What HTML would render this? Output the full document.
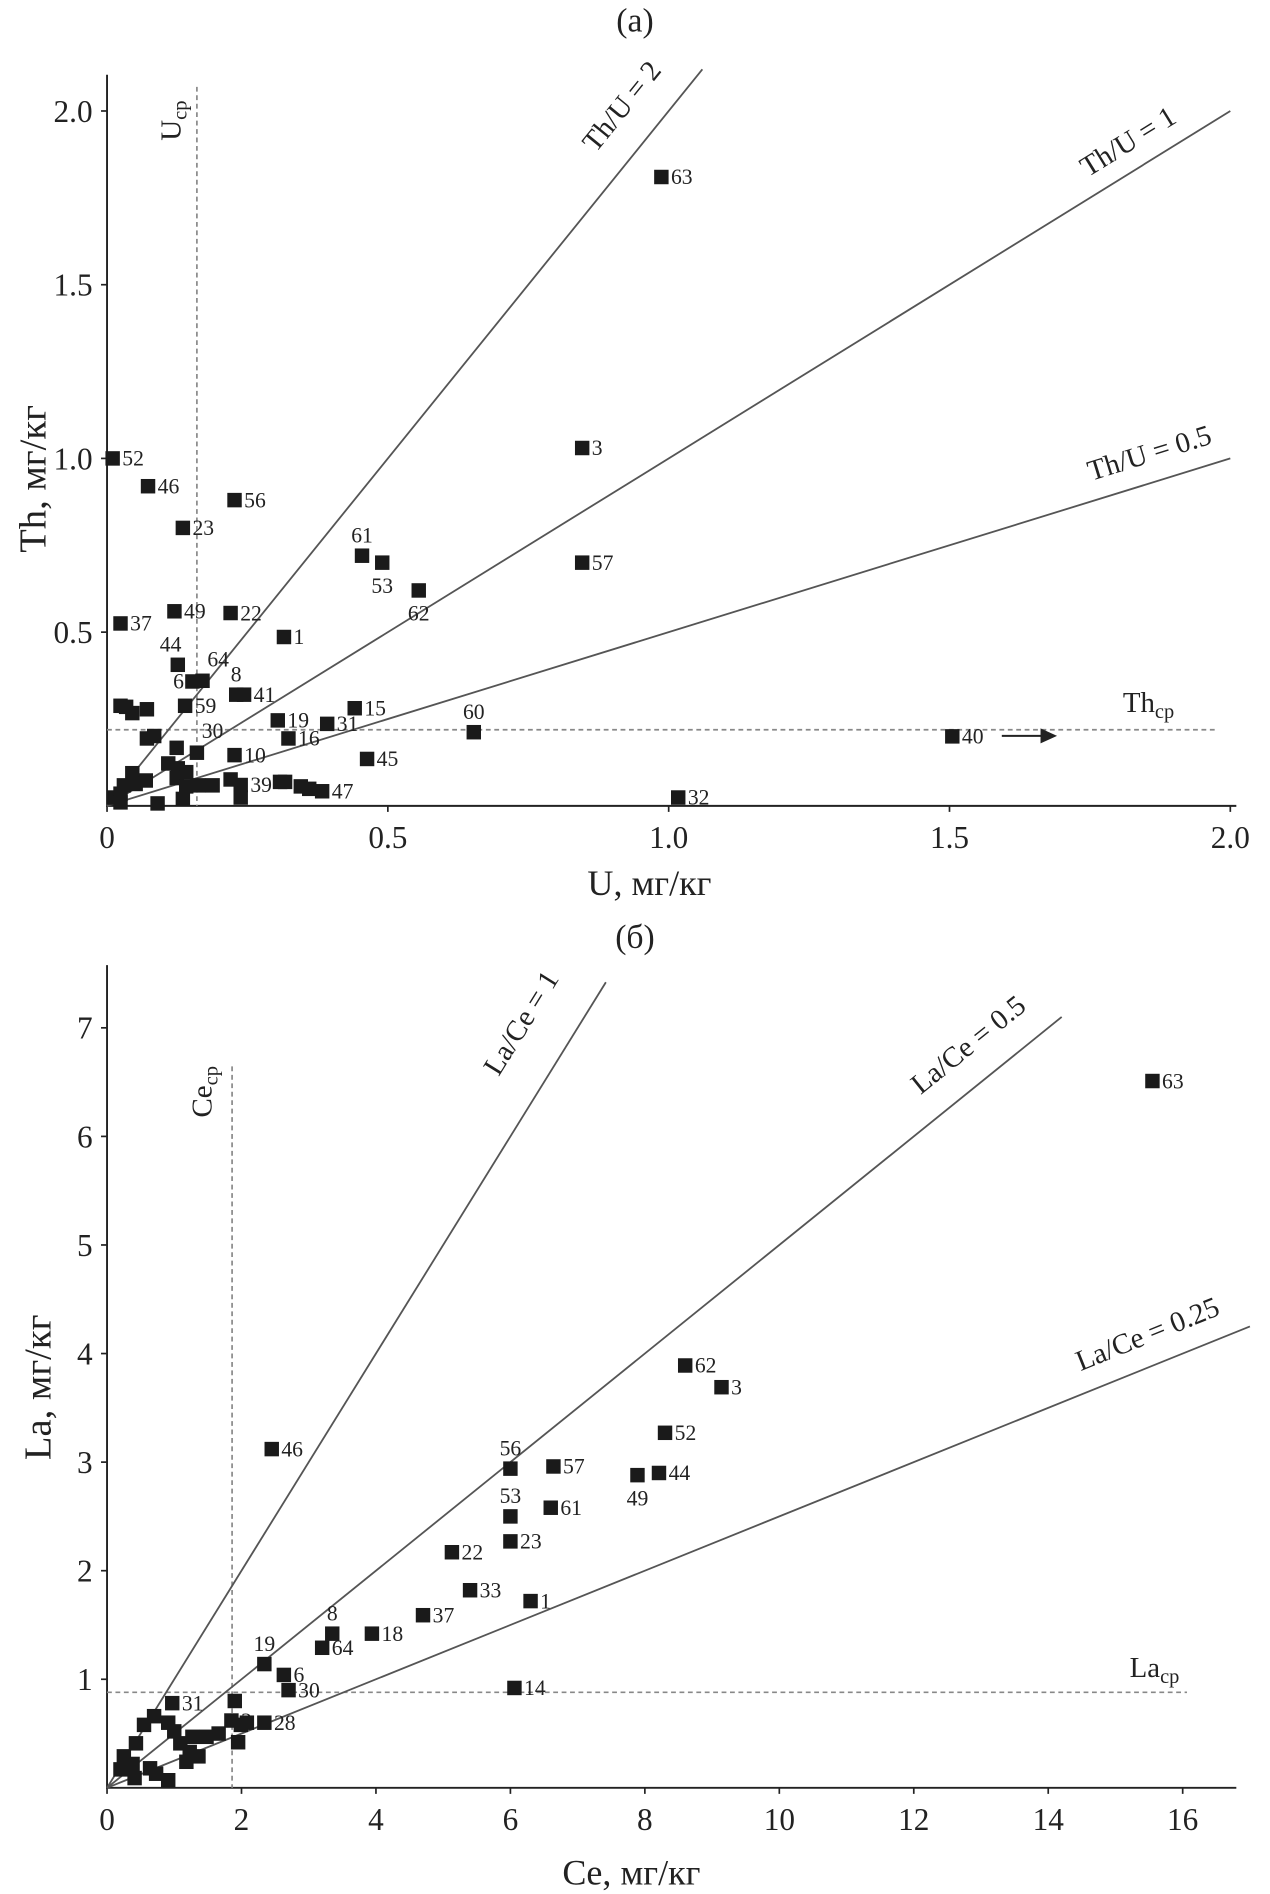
<!DOCTYPE html>
<html><head><meta charset="utf-8"><style>
html,body{margin:0;padding:0;background:#fff;}
svg{display:block;font-family:"Liberation Serif",serif;}
</style></head><body>
<svg id="chart" width="1270" height="1894" viewBox="0 0 1056 1570" preserveAspectRatio="none" xmlns="http://www.w3.org/2000/svg"></svg>
<script>
// Panel (a): U vs Th
const aU  = [0.01,0.073,0.227,0.135,0.454,0.49,0.555,0.846,0.987,0.846,0.024,0.12,0.22,0.315,0.126,0.17,0.152,0.23,0.244,0.139,0.304,0.441,0.392,0.323,0.16,0.227,0.653,1.505,0.463,0.238,0.383,1.017,
 0.024,0.034,0.045,0.071,0.071,0.084,0.124,0.109,0.126,0.141,0.124,0.141,0.045,0.051,0.03,0.024,0.013,0.024,0.09,0.135,0.163,0.188,0.22,0.238,0.308,0.317,0.345,0.36,0.069];
const aTh = [1.0,0.92,0.88,0.80,0.72,0.70,0.62,1.03,1.81,0.70,0.525,0.56,0.555,0.486,0.406,0.36,0.358,0.32,0.32,0.288,0.246,0.281,0.236,0.194,0.153,0.146,0.212,0.20,0.135,0.06,0.042,0.024,
 0.288,0.285,0.267,0.278,0.194,0.201,0.167,0.122,0.108,0.097,0.08,0.056,0.094,0.063,0.059,0.035,0.024,0.01,0.007,0.02,0.059,0.059,0.076,0.024,0.069,0.069,0.056,0.049,0.073];
const aLab = ["52","46","56","23","61","53","62","3","63","57","37","49","22","1","44","64","6","8","41","59","19","15","31","16","30","10","60","40","45","39","47","32"];
const aLabPos = ["r","r","r","r","a","b","b","r","r","r","r","r","r","r","al","ar","l","a","r","r","r","r","r","r","ar","r","a","r","r","r","r","r"];
const aXTicks = [0,0.5,1.0,1.5,2.0];
const aXTickLabels = ["0","0.5","1.0","1.5","2.0"];
const aYTicks = [0.5,1.0,1.5,2.0];
const aYTickLabels = ["0.5","1.0","1.5","2.0"];
const aRatios = [2,1,0.5];
const aRatioEnds = [1.06,2.0,2.0];
const aRatioLabels = ["Th/U = 2","Th/U = 1","Th/U = 0.5"];
const aUcp = 0.16, aThcp = 0.219;

// Panel (b): Ce vs La
const bCe = [15.55,8.6,9.14,8.3,8.21,7.89,6.64,6.0,6.0,6.6,6.0,5.13,5.4,4.7,6.3,3.94,3.2,3.35,2.34,2.63,2.7,6.06,2.45,0.97,2.34,1.85,
 1.9,1.99,2.08,1.95,1.66,1.48,1.27,1.09,1.23,0.7,0.55,0.91,1.0,0.43,0.25,0.2,0.38,0.64,0.91,0.41,0.73,1.18,1.36];
const bLa = [6.51,3.89,3.69,3.27,2.9,2.88,2.96,2.94,2.5,2.58,2.27,2.17,1.82,1.59,1.72,1.42,1.29,1.42,1.14,1.04,0.9,0.92,3.12,0.78,0.6,0.62,
 0.8,0.58,0.6,0.42,0.5,0.47,0.47,0.41,0.33,0.66,0.58,0.6,0.52,0.41,0.29,0.17,0.22,0.18,0.07,0.09,0.13,0.24,0.29];
const bLab = ["63","62","3","52","44","49","57","56","53","61","23","22","33","37","1","18","64","8","19","6","30","14","46","31","28","3"];
const bLabPos = ["r","r","r","r","r","b","r","a","a","r","r","r","r","r","r","r","r","a","a","r","r","r","r","r","r","r"];
const bXTicks = [0,2,4,6,8,10,12,14,16];
const bXTickLabels = ["0","2","4","6","8","10","12","14","16"];
const bYTicks = [1,2,3,4,5,6,7];
const bYTickLabels = ["1","2","3","4","5","6","7"];
const bRatios = [1,0.5,0.25];
const bRatioEnds = [7.42,14.2,17.0];
const bRatioLabels = ["La/Ce = 1","La/Ce = 0.5","La/Ce = 0.25"];
const bCecp = 1.86, bLacp = 0.88;

const svg = document.getElementById('chart');
const NS = "http://www.w3.org/2000/svg";
function mk(tag, attrs, parent){const e=document.createElementNS(NS,tag);for(const k in attrs)e.setAttribute(k,attrs[k]);(parent||svg).appendChild(e);return e;}
function txt(s,x,y,size,anchor,rot,parent){const t=mk('text',{x:x,y:y,'font-size':size,'text-anchor':anchor||'middle',fill:'#222'},parent);if(rot)t.setAttribute('transform','rotate('+rot+' '+x+' '+y+')');t.textContent=s;return t;}

function panel(cfg){
  const g = mk('g',{});
  
  
  const X = v => cfg.ox + v*cfg.sx, Y = v => cfg.oy - v*cfg.sy;
  // axes
  const ax = mk('path',{d:`M${cfg.ox} ${cfg.top} V${cfg.oy} H${cfg.right}`,stroke:'#222','stroke-width':1.6,fill:'none'},g);
  
  
  cfg.xt.forEach((v,i)=>{
    mk('line',{x1:X(v),y1:cfg.oy,x2:X(v),y2:cfg.oy+5,stroke:'#222','stroke-width':1.4},g);
    const t=txt(cfg.xtl[i],X(v),cfg.oy+35,26,'middle',0,g);
    
    
  });
  cfg.yt.forEach((v,i)=>{
    mk('line',{x1:cfg.ox-5,y1:Y(v),x2:cfg.ox,y2:Y(v),stroke:'#222','stroke-width':1.4},g);
    const t=txt(cfg.ytl[i],cfg.ox-12,Y(v)+9,26,'end',0,g);
    
    
  });
  // dotted mean lines
  const vl=mk('line',{x1:X(cfg.vx),y1:cfg.vtop,x2:X(cfg.vx),y2:cfg.oy,stroke:'#888','stroke-width':1.4,'stroke-dasharray':'4,3'},g);
  
  
  const hl=mk('line',{x1:cfg.ox,y1:Y(cfg.hy),x2:cfg.hend,y2:Y(cfg.hy),stroke:'#888','stroke-width':1.4,'stroke-dasharray':'4,3'},g);
  
  
  // ratio lines
  cfg.ratios.forEach((r,i)=>{
    const l=mk('line',{x1:X(0),y1:Y(0),x2:X(cfg.ends[i]),y2:Y(cfg.ends[i]*r),stroke:'#555','stroke-width':1.5},g);
    
    
    const ang = -Math.atan(r*cfg.sy/cfg.sx)*180/Math.PI;
    const p = cfg.rlPos[i];
    const t=txt(cfg.rlabels[i],p[0],p[1],24,'middle',ang,g);
    
    
  });
  // points
  cfg.xs.forEach((v,i)=>{
    const px=X(v), py=Y(cfg.ys[i]);
    const m=mk('rect',{x:px-6,y:py-6,width:12,height:12,fill:'#1a1a1a'},g);
    
    
    if(i<cfg.labs.length){
      const pos=cfg.lpos[i]; let lx=px+8, ly=py+6, an='start';
      if(pos==='a'){lx=px;ly=py-11;an='middle';}
      else if(pos==='b'){lx=px;ly=py+25;an='middle';}
      else if(pos==='l'){lx=px-7;an='end';}
      else if(pos==='al'){lx=px-6;ly=py-11;an='middle';}
      else if(pos==='ar'){lx=px+4;ly=py-12;an='start';}
      const t=txt(cfg.labs[i],lx,ly,18,an,0,g);
      
      
    }
  });
  return {X,Y,g};
}

const A = panel({name:'panel-a',ox:89,oy:668,sx:467,sy:288,top:62,right:1028,xt:aXTicks,xtl:aXTickLabels,yt:aYTicks,ytl:aYTickLabels,
  vx:aUcp,vtop:72,hy:aThcp,hend:1012,ratios:aRatios,ends:aRatioEnds,rlabels:aRatioLabels,
  rlPos:[[523,93],[942,124],[958,383]],xs:aU,ys:aTh,labs:aLab,lpos:aLabPos});
const B = panel({name:'panel-b',ox:89,oy:1482,sx:55.9,sy:90,top:800,right:1028,xt:bXTicks,xtl:bXTickLabels,yt:bYTicks,ytl:bYTickLabels,
  vx:bCecp,vtop:884,hy:bLacp,hend:987,ratios:bRatios,ends:bRatioEnds,rlabels:bRatioLabels,
  rlPos:[[440,852],[810,872],[957,1113]],xs:bCe,ys:bLa,labs:bLab,lpos:bLabPos});

// arrow for point 40
const arr=mk('path',{d:'M833 610 H873 M866 605 L877 610 L866 615 Z',stroke:'#222','stroke-width':1.6,fill:'#222'});



// titles
function lab(s,x,y,size,rot,name){const t=txt(s,x,y,size,'middle',rot);return t;}
lab('(a)',528,26,28,0,'panel-a-title');
lab('U, мг/кг',540,742,30,0,'x-axis-title-a');
lab('Th, мг/кг',38,397,32,-90,'y-axis-title-a');
lab('(б)',528,786,28,0,'panel-b-title');
lab('Ce, мг/кг',525,1562,30,0,'x-axis-title-b');
lab('La, мг/кг',42,1150,32,-90,'y-axis-title-b');

// mean labels with subscripts
function sub(main,s,x,y,rot,name){
  const t=mk('text',{x:x,y:y,'font-size':24,'text-anchor':'middle',fill:'#222'});
  if(rot)t.setAttribute('transform','rotate('+rot+' '+x+' '+y+')');
  
  
  const a=mk('tspan',{},t);a.textContent=main;
  const b=mk('tspan',{'font-size':17,dy:5},t);b.textContent=s;
}
sub('U','cp',150,100,-90,'u-mean-label');
sub('Th','cp',955,590,0,'th-mean-label');
sub('Ce','cp',176,905,-90,'ce-mean-label');
sub('La','cp',960,1390,0,'la-mean-label');
</script>
</body></html>
